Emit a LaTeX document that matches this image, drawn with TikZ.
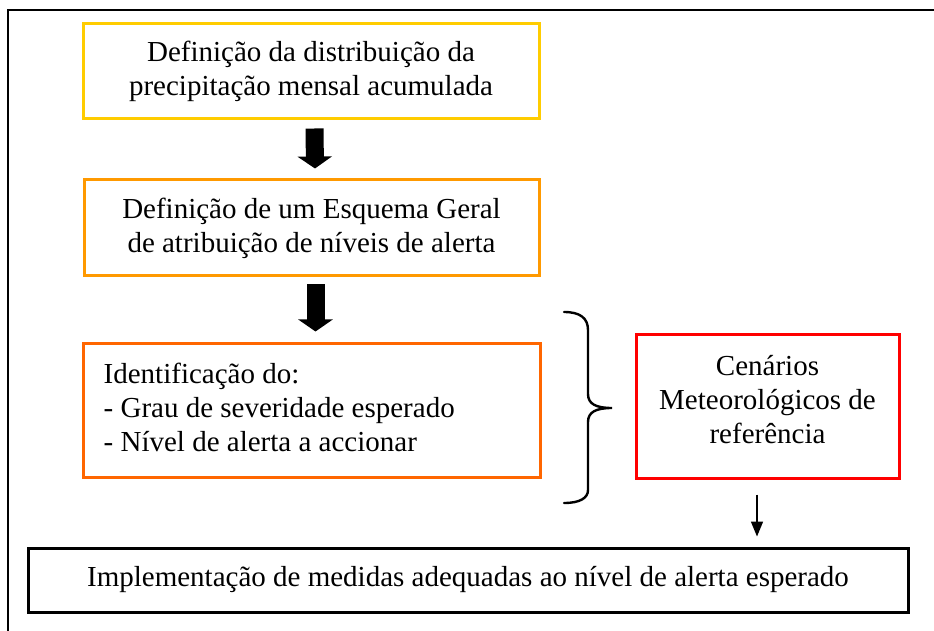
\documentclass[tikz,border=0pt]{standalone}
\usepackage{fontspec}
\setmainfont{Liberation Serif}
\usetikzlibrary{arrows.meta,calc}
\definecolor{boxA}{HTML}{FFCC00}
\definecolor{boxB}{HTML}{FF9900}
\definecolor{boxC}{HTML}{FF6600}
\definecolor{boxD}{HTML}{FF0000}
\begin{document}
\begin{tikzpicture}[x=1pt,y=1pt,
  every node/.style={font=\fontsize{29}{34}\selectfont},
  flowbox/.style={draw,line width=3pt,rectangle,inner sep=0pt,align=center},
  blockarrow/.style={line width=18pt,-{Triangle[width=34pt,length=12pt]}},
  thinarrow/.style={line width=1.6pt,-{Triangle[width=12pt,length=15pt]}}]
\useasboundingbox (0,0) rectangle (934,630);
% outer frame (open to the right and bottom)
\draw[line width=1.8pt] (8,-20) -- (8,620) -- (960,620);
% boxes
\node[flowbox,draw=boxA,minimum width=456pt,minimum height=95pt] (b1) at (311,558.5)
  {Definição da distribuição da\\precipitação mensal acumulada};
\node[flowbox,draw=boxB,minimum width=455pt,minimum height=96pt] (b2) at (311.5,402)
  {Definição de um Esquema Geral\\de atribuição de níveis de alerta};
\node[flowbox,draw=boxC,minimum width=457pt,minimum height=134pt] (b3) at (311.5,220) {};
\node[align=left,inner sep=0pt,anchor=west] (b3t) at ($(b3.west)+(22,3)$)
  {Identificação do:\\- Grau de severidade esperado\\- Nível de alerta a accionar};
\node[flowbox,draw=boxD,minimum width=263pt,minimum height=144pt] (b4) at (767.5,224) {};
\node[align=center,inner sep=0pt] (b4t) at ($(b4.center)+(0,6)$)
  {Cenários\\Meteorológicos de\\referência};
\node[flowbox,draw=black,minimum width=880pt,minimum height=64pt] (b5) at (468,50)
  {Implementação de medidas adequadas ao nível de alerta esperado};
% block arrows
\coordinate (a1s) at ($(b1.south)+(3.5,-8)$);
\coordinate (a1e) at ($(b2.north)+(3.5,10)$);
\draw[blockarrow] (a1s) -- (a1e);
\coordinate (a2s) at ($(b2.south)+(4,-7)$);
\coordinate (a2e) at ($(b3.north)+(4,10)$);
\draw[blockarrow] (a2s) -- (a2e);
% brace
\draw[line width=2.4pt,line cap=round]
  (564,318) .. controls (580,318) and (588,312) .. (588,300)
  -- (588,236) .. controls (588,226) and (596,222) .. (612,222)
  .. controls (596,222) and (588,218) .. (588,208)
  -- (588,140) .. controls (588,132) and (580,127) .. (564,127);
% thin arrow
\coordinate (a3s) at ($(b4.south)+(-10.5,-15)$);
\coordinate (a3e) at ($(b5.north)+(289,10)$);
\draw[thinarrow] (a3s) -- (a3e);
\end{tikzpicture}
\end{document}
